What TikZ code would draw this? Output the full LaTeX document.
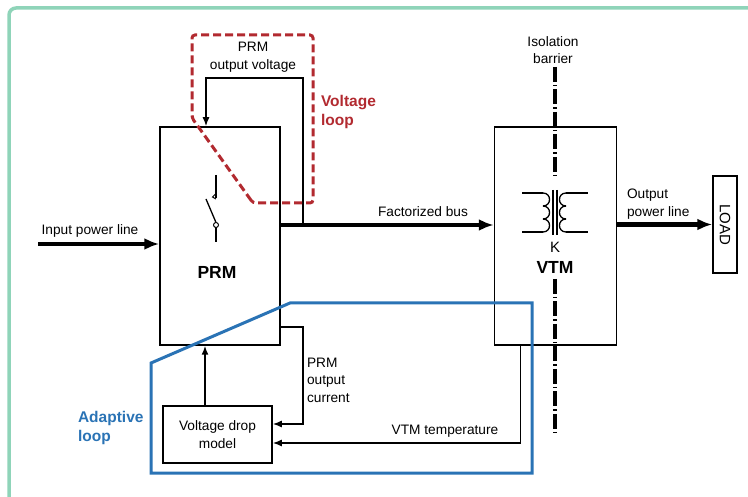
\documentclass[tikz,border=0pt]{standalone}
\usepackage{fontspec}
\setmainfont{Liberation Sans}
\usetikzlibrary{positioning, calc, arrows.meta}
\definecolor{loopred}{HTML}{B22A30}
\definecolor{loopblue}{HTML}{2A73B5}
\definecolor{framegreen}{HTML}{8FD4B9}

\begin{document}
\begin{tikzpicture}[x=1pt, y=-1pt,
    every node/.style={font=\fontsize{13.7}{17.5}\selectfont},
    block/.style={draw, 
      line width=1.5, 
      inner sep=0pt},
    title/.style={font=\fontsize{17.5}{20}\selectfont\bfseries},
    looptitle/.style={font=\fontsize{15.5}{19}\selectfont\bfseries, 
      align=left, 
      anchor=west},
    power/.style={line width=4.5, -{Latex[length=15pt,width=12pt]}},
    signal/.style={line width=1.5, -{Latex[length=9pt,width=7pt]}},
    barrier/.style={line width=3.5, dash pattern=on 15pt off 3pt on 1.5pt off 3pt},
    wire/.style={line width=1.3}]

  \useasboundingbox (0,0) rectangle (748,497);
  \draw[framegreen, line width=3.5, rounded corners=7] (760,8) -- (9,8) -- (9,510);

  \node [block, minimum width=120, minimum height=218] (prm) at (220,236) {};
  \node [title] (prmtitle) at (217,272) {PRM};

  \node [block, 
    minimum width=122, 
    minimum height=218, 
    right=213pt of prm] (vtm) {};
  \node [font=\fontsize{15}{18}\selectfont] (klabel) at (555,247) {K};
  \node [title] (vtmtitle) at (555,267) {VTM};

  \node [block, 
    rotate=-90, 
    minimum width=97, 
    minimum height=24, 
    font=\fontsize{15}{18}\selectfont] (load) at (725,224.5) {LOAD};

  \node [block, 
    minimum width=109, 
    minimum height=57, 
    align=center] (vdm) at (217.5,434.5) {Voltage drop\\model};

  \node [align=center] (voutlabel) at (253,57) {PRM\\output voltage};
  \node [looptitle, text=loopred] (vlooplabel) at (317.5,112) {Voltage\\loop};
  \node [align=center] (isolabel) at (553,50) {Isolation\\barrier};
  \node (buslabel) at (423,212) {Factorized bus};
  \node (inlabel) at (90,231) {Input power line};
  \node [align=left, anchor=west] (outlabel) at (623.5,204) {Output\\power line};
  \node [align=left, anchor=west] (ioutlabel) at (303.5,380) {PRM\\output\\current};
  \node (templabel) at (445,431) {VTM temperature};
  \node [looptitle, text=loopblue] (alooplabel) at (74.5,428) {Adaptive\\loop};

% SWITCH
  \draw[wire] (216,175) -- (216,198);
  \draw[line width=1] (216,193.5) -- (212.5,197) -- (216,199);
  \draw[wire] (216,222.5) -- (206,199);
  \draw[wire] (216,227.5) -- (216,242);
  \draw[line width=1, fill=white] (216,225) circle (2.5);

% TRANSFORMER
  \draw[wire] (522,193) -- (543,193) (522,232) -- (543,232);
  \draw[wire] (566,193) -- (588,193) (566,232) -- (588,232);
  \draw[wire] (553,190) -- (553,235) (557,190) -- (557,235);
  \foreach \k in {0,1,2} {
    \draw[wire] (543,{193+13*\k}) .. controls (551.7,{193+13*\k}) and (551.7,{206+13*\k}) .. (543,{206+13*\k});
    \draw[wire] (566,{193+13*\k}) .. controls (557.3,{193+13*\k}) and (557.3,{206+13*\k}) .. (566,{206+13*\k});
  }

  \draw[barrier] (555,67) -- (555,177);
  \draw[barrier] (555,279) -- (555,433);

% POWER PATH
  \coordinate (inlet) at (38,244);
  \draw[power] (inlet) -- (inlet -| prm.west);
  \draw[power] ($(prm.east)+(0,-11)$) -- ($(vtm.west)+(0,-11)$);
  \draw[power] (vtm.east |- load.south) -- (load.south);

% FEEDBACK
  \draw[signal] ($(prm.east)+(22,-11)$) |- ($(prm.north)+(-14,-48)$) 
  -- ($(prm.north)+(-14,0)$);
  \draw[signal] ($(prm.east)+(0,91)$) -- ++(22,0) 
  |- ($(vdm.east)+(0,-10.5)$);
  \draw[signal] ($(vtm.south)+(-35,0)$) |- ($(vdm.east)+(0,8.5)$);
  \coordinate (vdmout) at ($(vdm.north)+(-12.5,0)$);
  \draw[signal] (vdmout) -- (vdmout |- prm.south);

% LOOPS
  \draw[loopred, line width=3, dash pattern=on 8pt off 4pt, rounded corners=3] 
  (253,203) -- (192,118) -- (192,35) -- (313,35) -- (313,203) -- cycle;
  \draw[loopblue, line width=3] 
  (151,363) -- (151,473) -- (532,473) -- (532,303) -- (290,303) -- cycle;

\end{tikzpicture}
\end{document}
